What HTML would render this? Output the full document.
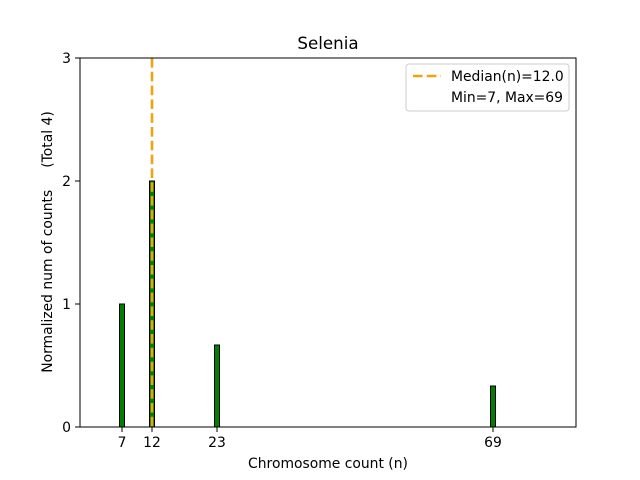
<!DOCTYPE html>
<html><head><style>body{margin:0;background:#fff}svg{display:block}text{font-family:"DejaVu Sans","Liberation Sans",sans-serif;fill:#000}</style></head>
<body>
<svg width="640" height="480" viewBox="0 0 640 480" xmlns="http://www.w3.org/2000/svg">
<rect width="640" height="480" fill="#fff"/>
<g fill="#008000" stroke="#000" stroke-width="1">
<rect x="119.5" y="304" width="5" height="123"/>
<rect x="149.5" y="181" width="5" height="246"/>
<rect x="214.5" y="345" width="5" height="82"/>
<rect x="490.5" y="386" width="5" height="41"/>
</g>
<line x1="152" y1="58" x2="152" y2="427" stroke="#f0a30a" stroke-width="2.6" stroke-dasharray="9.6,4.2"/>
<rect x="80" y="58" width="496" height="369" fill="none" stroke="#000" stroke-width="1"/>
<g stroke="#000" stroke-width="1">
<line x1="122" y1="427" x2="122" y2="432"/><line x1="152" y1="427" x2="152" y2="432"/>
<line x1="217" y1="427" x2="217" y2="432"/><line x1="493" y1="427" x2="493" y2="432"/>
<line x1="75" y1="427" x2="80" y2="427"/><line x1="75" y1="304" x2="80" y2="304"/>
<line x1="75" y1="181" x2="80" y2="181"/><line x1="75" y1="58" x2="80" y2="58"/>
</g>
<g font-size="13.9" text-anchor="middle">
<text x="122" y="447">7</text><text x="152" y="447">12</text><text x="217" y="447">23</text><text x="493" y="447">69</text>
</g>
<g font-size="13.9" text-anchor="end">
<text x="71" y="432">0</text><text x="71" y="309">1</text><text x="71" y="186">2</text><text x="71" y="63">3</text>
</g>
<text x="328" y="468" font-size="13.9" text-anchor="middle">Chromosome count (n)</text>
<text transform="translate(52,242) rotate(-90)" font-size="13.9" text-anchor="middle" xml:space="preserve" style="white-space:pre">Normalized num of counts     (Total 4)</text>
<text x="328" y="49" font-size="16.7" text-anchor="middle">Selenia</text>
<rect x="406" y="64" width="163" height="47" rx="3" fill="#fff" stroke="#ccc" stroke-width="1"/>
<line x1="413" y1="76" x2="441" y2="76" stroke="#f0a30a" stroke-width="2.6" stroke-dasharray="9.6,4.2"/>
<text x="451" y="81" font-size="13.9">Median(n)=12.0</text>
<text x="451" y="102" font-size="13.9">Min=7, Max=69</text>
</svg>
</body></html>
